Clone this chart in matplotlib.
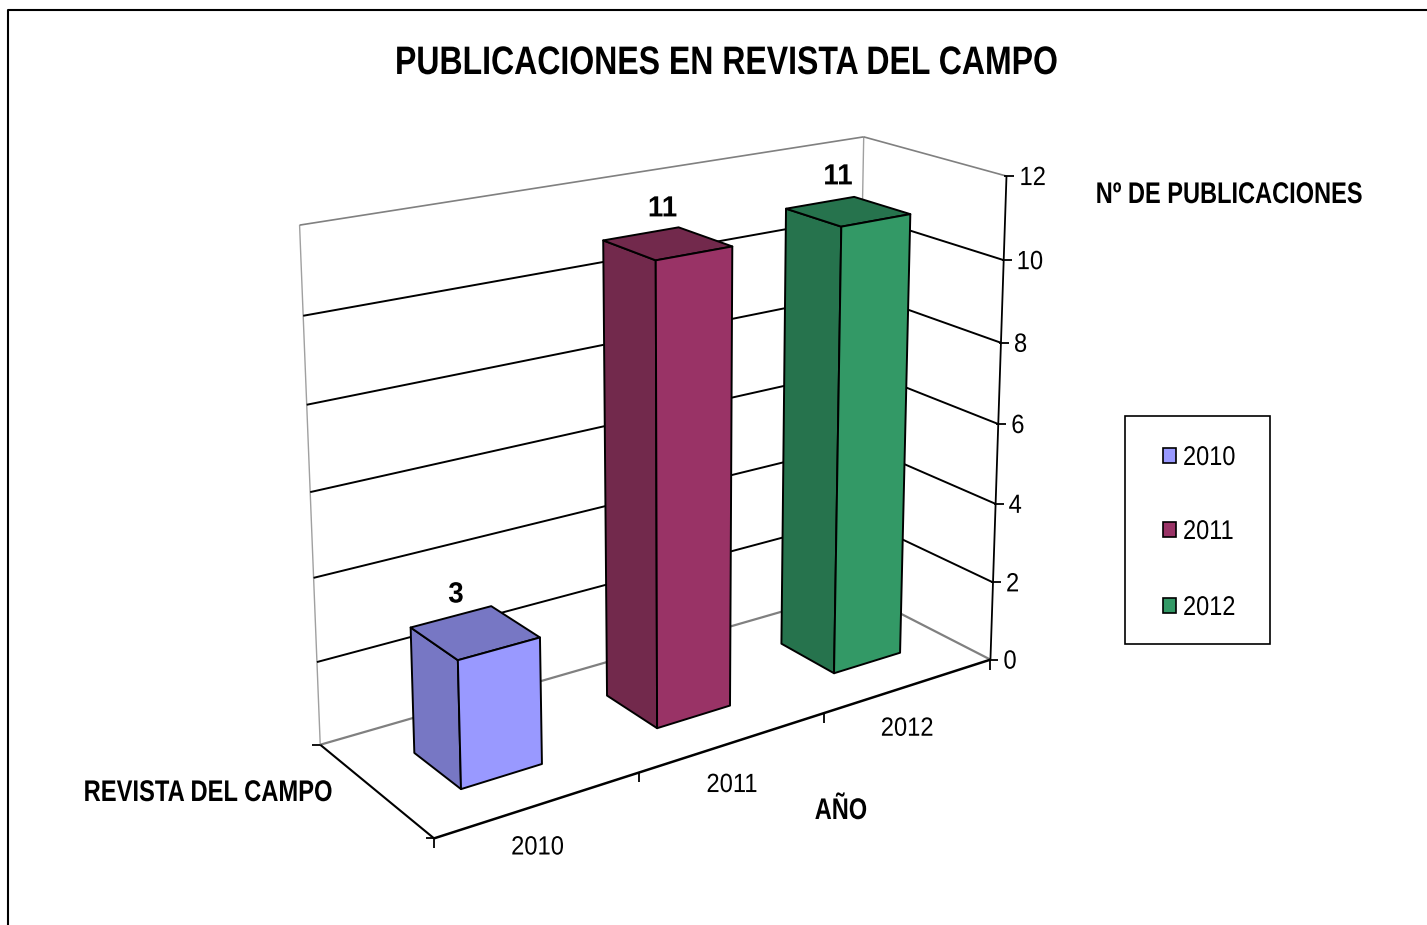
# -*- coding: utf-8 -*-
'''3D column chart drawn by hand, excel style perspective on a plain axes'''
import numpy as np
import matplotlib
matplotlib.use('Agg')
import matplotlib.pyplot as plt
from matplotlib.patches import Polygon, Rectangle
from matplotlib.patheffects import AbstractPathEffect
from matplotlib.transforms import Affine2D

years = ['2010', '2011', '2012']
values = [3, 11, 11]
value_ticks = [0, 2, 4, 6, 8, 10, 12]
title = 'PUBLICACIONES EN REVISTA DEL CAMPO'
front_colors = ['#9999FF', '#993366', '#339966']
side_colors = ['#7777C4', '#72294C', '#26734D']

VMAX = 12.0
BAR_LO, BAR_HI = 0.3, 0.7

# box corners (u along years, v depth, w value/VMAX) -> picture pixels
anchors = [((0, 0, 0), (434, 838)),
           ((1, 0, 0), (990, 660)),
           ((0, 1, 0), (320, 745)),
           ((1, 1, 0), (856, 590)),
           ((1, 0, 1), (1007, 176)),
           ((1, 1, 1), (863, 137)),
           ((0, 1, 1), (300, 224)),
           ((0, 1, 2/12.0), (317, 662)),
           ((0, 1, 10/12.0), (303, 317))]


def fit_camera(anchors):
    rows = []
    rhs = []
    for (u, v, w), (x, y) in anchors:
        rows.append([u, v, w, 1, 0, 0, 0, 0, -x*u, -x*v, -x*w])
        rhs.append(x)
        rows.append([0, 0, 0, 0, u, v, w, 1, -y*u, -y*v, -y*w])
        rhs.append(y)
    p = np.linalg.lstsq(np.array(rows, float), np.array(rhs, float), rcond=None)[0]
    return np.append(p, 1).reshape(3, 4)


cam = fit_camera(anchors)


def proj(u, v, val):
    h = cam.dot([u, v, val/VMAX, 1])
    return h[0]/h[2], h[1]/h[2]


class Squeeze(AbstractPathEffect):
    """narrows the glyphs around x0, the reference text is condensed"""
    def __init__(self, x0, sx):
        super().__init__()
        self.x0 = x0
        self.sx = sx

    def draw_path(self, renderer, gc, tpath, affine, rgbFace=None):
        squeeze = Affine2D().translate(-self.x0, 0).scale(self.sx, 1).translate(self.x0, 0)
        renderer.draw_path(gc, tpath, affine + squeeze, rgbFace)


plt.rcParams['font.family'] = ['Liberation Sans']

fig = plt.figure(figsize=(14.27, 9.25), dpi=100)
ax = fig.add_axes([0, 0, 1, 1])
ax.set_xlim(0, 1427)
ax.set_ylim(925, 0)
ax.axis('off')


def seg(p, q, color='k', lw=1.4, z=2):
    ax.plot([p[0], q[0]], [p[1], q[1]], color=color, lw=lw, zorder=z,
            solid_capstyle='butt')


def txt(x, y, s, size, sx, weight='normal', ha='center', z=8):
    t = ax.text(x, y, s, fontsize=size, fontweight=weight, ha=ha, va='center', zorder=z)
    t.set_path_effects([Squeeze(x, sx)])
    return t


# outer chart frame, runs off the picture on the right and bottom
ax.plot([8, 8, 1427], [925, 9.5, 9.5], color='k', lw=1.5, zorder=1)

# walls and floor edges
gray = '#808080'
seg(proj(0, 1, 0), proj(0, 1, VMAX), '#a0a0a0', 1.0)
seg(proj(1, 1, 0), proj(1, 1, VMAX), '#a0a0a0', 1.0)
seg(proj(0, 1, VMAX), proj(1, 1, VMAX), gray, 1.2)
seg(proj(1, 1, VMAX), proj(1, 0, VMAX), gray, 1.2)
seg(proj(0, 1, 0), proj(1, 1, 0), gray, 1.6)
seg(proj(1, 1, 0), proj(1, 0, 0), gray, 1.6)

# gridlines on the walls
for t in value_ticks[1:-1]:
    seg(proj(0, 1, t), proj(1, 1, t))
    seg(proj(1, 1, t), proj(1, 0, t))

# axes lines
seg(proj(0, 1, 0), proj(0, 0, 0), 'k', 1.5, 3)
seg(proj(0, 0, 0), proj(1, 0, 0), 'k', 1.8, 3)
seg(proj(1, 0, 0), proj(1, 0, VMAX), 'k', 1.3, 3)

# value ticks and labels
for t in value_ticks:
    x, y = proj(1, 0, t)
    seg((x-2, y), (x+8, y), 'k', 1.3, 3)
    txt(x+13, y+2, str(t), 19, 0.9, ha='left')

# short stubs on the two left corners
for v in (0, 1):
    x, y = proj(0, v, 0)
    seg((x-8, y), (x, y), 'k', 1.3, 3)

# category ticks and labels
for i in range(4):
    x, y = proj(i/3.0, 0, 0)
    seg((x, y), (x, y+10), 'k', 1.3, 3)
for i, yr in enumerate(years):
    x, y = proj((i+0.5)/3.0, 0, 0)
    txt(x-2, y+43, yr, 19, 0.9)

# columns, they do not overlap so order is free
label_dx = [-19, -5, -10]
label_dy = [-38, -35, -35]
for i, val in enumerate(values):
    u0 = (i+BAR_LO)/3.0
    u1 = (i+BAR_HI)/3.0
    v0, v1 = BAR_LO, BAR_HI
    front = [proj(u0, v0, 0), proj(u1, v0, 0), proj(u1, v0, val), proj(u0, v0, val)]
    side = [proj(u0, v1, 0), proj(u0, v0, 0), proj(u0, v0, val), proj(u0, v1, val)]
    top = [proj(u0, v0, val), proj(u1, v0, val), proj(u1, v1, val), proj(u0, v1, val)]
    ax.add_patch(Polygon(side, fc=side_colors[i], ec='k', lw=1.4, zorder=5, joinstyle='round'))
    ax.add_patch(Polygon(top, fc=side_colors[i], ec='k', lw=1.4, zorder=5, joinstyle='round'))
    ax.add_patch(Polygon(front, fc=front_colors[i], ec='k', lw=1.4, zorder=6, joinstyle='round'))
    bx, by = proj((u0+u1)/2.0, 0.5, val)
    txt(bx+label_dx[i], by+label_dy[i], str(val), 21, 0.95, weight='bold')

# titles
txt(726, 63, title, 28.6, 0.806, weight='bold')
txt(1229, 195, 'Nº DE PUBLICACIONES', 21.5, 0.79, weight='bold')
txt(208, 793, 'REVISTA DEL CAMPO', 21.5, 0.795, weight='bold')
txt(841, 811, 'AÑO', 21.5, 0.79, weight='bold')

# legend
ax.add_patch(Rectangle((1125, 415.5), 145, 228, fc='w', ec='k', lw=1.2, zorder=2))
for yr, c, y in zip(years, front_colors, [456, 530, 606]):
    ax.add_patch(Rectangle((1163, y-8), 13, 15, fc=c, ec='k', lw=1.2, zorder=3))
    txt(1183, y+2, yr, 19.5, 0.87, ha='left')

fig.savefig('out.png', dpi=100)
